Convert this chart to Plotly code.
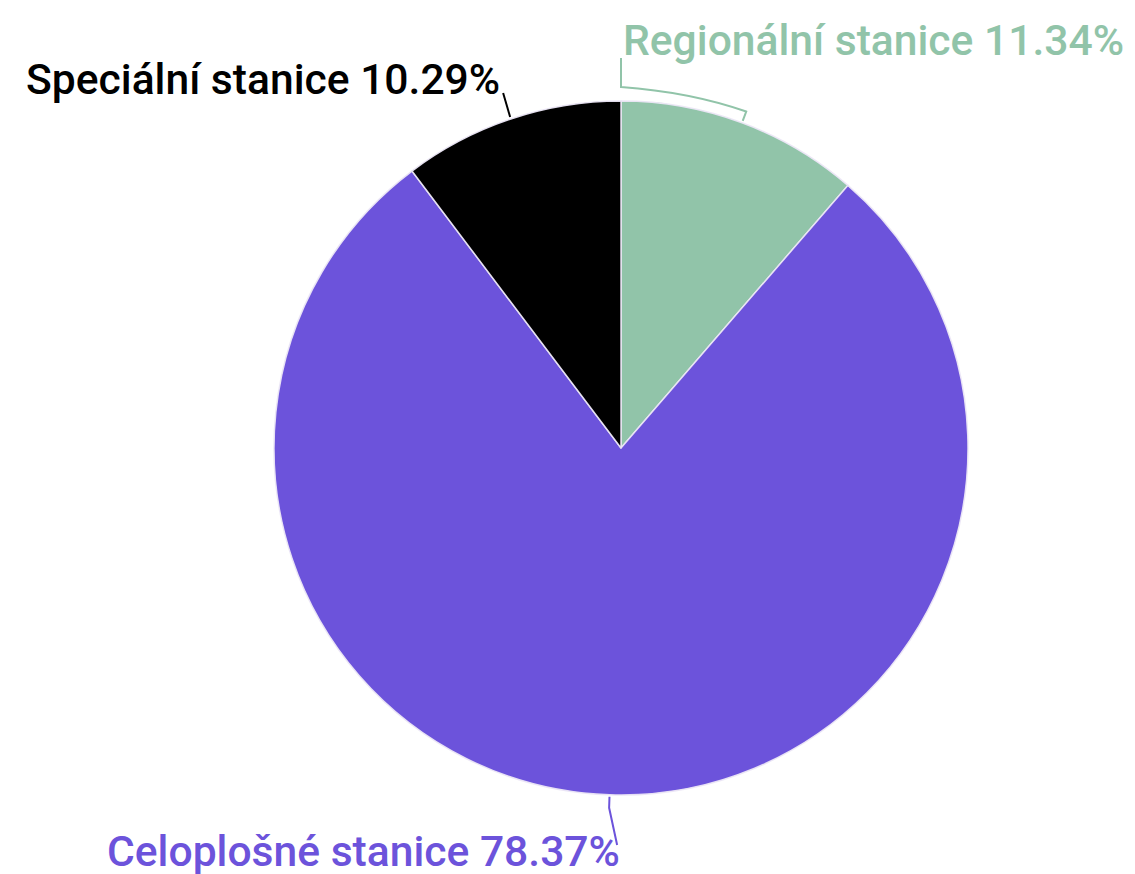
import math
import plotly.graph_objects as go

labels = ["Regionální stanice", "Celoplošné stanice", "Speciální stanice"]
values = [11.34, 78.37, 10.29]
colors = ["#91c4a9", "#6c53db", "#000000"]

W, H = 1135, 874
OFF = 8  # page body margin
CX, CY, R = 621, 448, 347

def px(x):
    return (x - OFF) / W

def py(y):
    return 1 - (y - OFF) / H

fig = go.Figure(go.Pie(
    labels=labels, values=values, sort=False, direction="clockwise", rotation=0,
    marker=dict(colors=colors, line=dict(color="rgba(235,230,245,0.95)", width=1.5)),
    textinfo="none", hoverinfo="label+percent", showlegend=False,
    domain=dict(x=[px(CX - R), px(CX + R)], y=[py(CY + R), py(CY - R)]),
))

total = sum(values)
mids = []
acc = 0
for v in values:
    mids.append((acc + v / 2) / total * 2 * math.pi)
    acc += v

def edge(theta, rr):
    return CX + rr * math.sin(theta), CY - rr * math.cos(theta)

font = dict(family="Roboto", size=42.6, weight=500)
shapes = []
annotations = []

# Regional
t = mids[0]
x1, y1 = edge(t, R + 2)
x2, y2 = edge(t, R + 12)
path = f"M {px(x1)},{py(y1)} L {px(x2)},{py(y2)} Q {px(690)},{py(92)} {px(CX)},{py(87)} L {px(CX)},{py(58)}"
shapes.append(dict(type="path", xref="paper", yref="paper", path=path, line=dict(color=colors[0], width=2)))
annotations.append(dict(x=px(CX), y=py(40), xref="paper", yref="paper", text=f"{labels[0]} {values[0]:.2f}%",
                        showarrow=False, xanchor="left", yanchor="middle", font=dict(font, color=colors[0])))

# Celoplošné
t = mids[1]
x1, y1 = edge(t, R + 2)
x2, y2 = edge(t, R + 13)
path = f"M {px(x1)},{py(y1)} L {px(x2)},{py(y2)} L {px(x2 + 8)},{py(845)}"
shapes.append(dict(type="path", xref="paper", yref="paper", path=path, line=dict(color=colors[1], width=2)))
annotations.append(dict(x=px(622), y=py(851), xref="paper", yref="paper", text=f"{labels[1]} {values[1]:.2f}%",
                        showarrow=False, xanchor="right", yanchor="middle", font=dict(font, color=colors[1])))

# Speciální
t = mids[2]
x1, y1 = edge(t, R + 2)
path = f"M {px(x1)},{py(y1)} L {px(x1 - 7)},{py(93)}"
shapes.append(dict(type="path", xref="paper", yref="paper", path=path, line=dict(color=colors[2], width=2)))
annotations.append(dict(x=px(502), y=py(79), xref="paper", yref="paper", text=f"{labels[2]} {values[2]:.2f}%",
                        showarrow=False, xanchor="right", yanchor="middle", font=dict(font, color=colors[2])))

fig.update_layout(
    width=W, height=H, margin=dict(l=0, r=0, t=0, b=0),
    paper_bgcolor="white", plot_bgcolor="white",
    shapes=shapes, annotations=annotations,
)
fig.write_html("out.html")
